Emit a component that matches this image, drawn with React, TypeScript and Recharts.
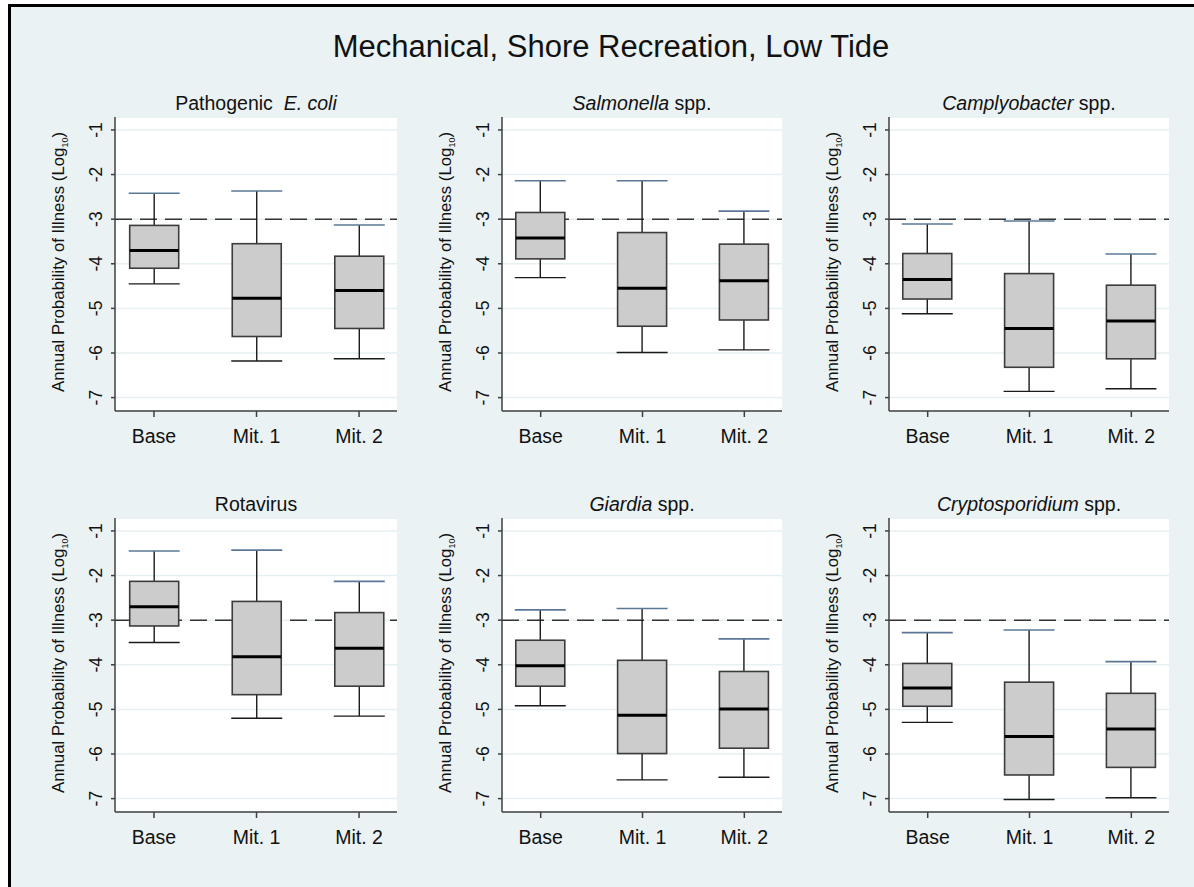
import React from "react";
import { ComposedChart, Bar, XAxis, YAxis, CartesianGrid } from "recharts";

const CATEGORIES = ["Base", "Mit. 1", "Mit. 2"];
const Y_TICKS = [-7, -6, -5, -4, -3, -2, -1];
const THRESHOLD = -3;

// each row: [lower adjacent, q1, median, q3, upper adjacent], log10 annual risk
const ECOLI = [
  [-4.45, -4.1, -3.7, -3.14, -2.42],
  [-6.18, -5.63, -4.77, -3.55, -2.37],
  [-6.13, -5.45, -4.6, -3.83, -3.13],
];
const SALMONELLA = [
  [-4.31, -3.89, -3.42, -2.85, -2.14],
  [-5.99, -5.4, -4.55, -3.3, -2.14],
  [-5.93, -5.26, -4.38, -3.56, -2.82],
];
const CAMPYLOBACTER = [
  [-5.12, -4.79, -4.35, -3.77, -3.11],
  [-6.86, -6.32, -5.45, -4.22, -3.04],
  [-6.8, -6.13, -5.28, -4.48, -3.78],
];
const ROTAVIRUS = [
  [-3.5, -3.13, -2.7, -2.13, -1.45],
  [-5.2, -4.67, -3.82, -2.58, -1.43],
  [-5.15, -4.48, -3.63, -2.83, -2.13],
];
const GIARDIA = [
  [-4.92, -4.48, -4.02, -3.45, -2.77],
  [-6.58, -5.99, -5.13, -3.9, -2.74],
  [-6.52, -5.87, -4.99, -4.15, -3.42],
];
const CRYPTO = [
  [-5.29, -4.93, -4.52, -3.97, -3.28],
  [-7.02, -6.47, -5.61, -4.39, -3.22],
  [-6.98, -6.3, -5.44, -4.64, -3.93],
];

const FONT = "'Liberation Sans', Arial, sans-serif";
const INK = "#111111";
const PLOT_LEFT = [115, 502, 889];
const PLOT_WIDTH = [282, 280, 280];
const PLOT_TOP = [117, 518];
const PLOT_HEIGHT = 294;

const YTick = (props: any) => {
  const { x, y, payload } = props;
  const cx = x - 13;
  return (
    <text
      x={cx}
      y={y}
      transform={`rotate(-90 ${cx} ${y})`}
      textAnchor="middle"
      dominantBaseline="central"
      fontSize={17.5}
      fontFamily={FONT}
      fill={INK}
    >
      {payload.value}
    </text>
  );
};

const BoxShape = (props: any) => {
  const { x, y, width, height, payload } = props;
  const [lo, q1, med, q3, hi] = payload.stats;
  const top = Math.min(y, y + height);
  const bottom = Math.max(y, y + height);
  // bar spans lo..hi, place the inner stats on the same linear scale
  const py = (v: number) => top + ((hi - v) / (hi - lo)) * (bottom - top);
  const cx = x + width / 2;
  return (
    <g>
      <line x1={cx} x2={cx} y1={py(hi)} y2={py(lo)} stroke="#1a1a1a" strokeWidth={1.4} />
      <rect
        x={x}
        y={py(q3)}
        width={width}
        height={py(q1) - py(q3)}
        fill="#cccccc"
        stroke="#3c3c3c"
        strokeWidth={1.6}
      />
      <line x1={x} x2={x + width} y1={py(med)} y2={py(med)} stroke="#000" strokeWidth={3} />
      <line x1={x - 1} x2={x + width + 1} y1={py(hi)} y2={py(hi)} stroke="#5a7896" strokeWidth={1.6} />
      <line x1={x - 1} x2={x + width + 1} y1={py(lo)} y2={py(lo)} stroke="#1a1a1a" strokeWidth={1.4} />
    </g>
  );
};

function Panel({ title, stats, col, row }: { title: React.ReactNode; stats: number[][]; col: number; row: number }) {
  const data = CATEGORIES.map((name, i) => ({
    pos: i + 1,
    name,
    range: [stats[i][0], stats[i][4]],
    stats: stats[i],
  }));
  const plotLeft = PLOT_LEFT[col];
  const plotTop = PLOT_TOP[row];
  const w = PLOT_WIDTH[col];
  return (
    <>
      <div
        style={{
          position: "absolute",
          left: plotLeft - 20,
          width: w + 40,
          top: plotTop - 23,
          textAlign: "center",
          fontFamily: FONT,
          fontSize: 19.5,
          lineHeight: "19px",
          color: INK,
          whiteSpace: "pre",
        }}
      >
        {title}
      </div>
      <div
        style={{
          position: "absolute",
          left: plotLeft - 53,
          top: plotTop + 145,
          transform: "translate(-50%, -50%) rotate(-90deg)",
          fontFamily: FONT,
          fontSize: 16.8,
          lineHeight: "17px",
          color: INK,
          whiteSpace: "nowrap",
        }}
      >
        Annual Probability of Illness (Log<sub style={{ fontSize: 9 }}>10</sub>)
      </div>
      <div style={{ position: "absolute", left: plotLeft - 70, top: plotTop - 10 }}>
        <ComposedChart
          width={w + 80}
          height={PLOT_HEIGHT + 60}
          data={data}
          margin={{ top: 10, right: 10, bottom: 0, left: 0 }}
        >
          <CartesianGrid vertical={false} fill="#ffffff" stroke="#e6eff1" strokeWidth={1.5} />
          <CartesianGrid
            vertical={false}
            horizontalValues={[THRESHOLD]}
            stroke="#333333"
            strokeWidth={1.5}
            strokeDasharray="17 8"
          />
          <XAxis
            dataKey="pos"
            type="number"
            domain={[0.62, 3.37]}
            ticks={[1, 2, 3]}
            allowDataOverflow
            interval={0}
            height={50}
            tickFormatter={(v: number) => CATEGORIES[v - 1]}
            tick={{ fontSize: 19.5, fontFamily: FONT, fill: INK }}
            tickSize={6}
            tickMargin={12}
            axisLine={{ stroke: "#404040", strokeWidth: 1.5 }}
            tickLine={{ stroke: "#404040", strokeWidth: 1.5 }}
          />
          <YAxis
            type="number"
            domain={[-7.3, -0.71]}
            ticks={Y_TICKS}
            allowDataOverflow
            interval={0}
            width={70}
            tick={<YTick />}
            tickSize={4}
            axisLine={{ stroke: "#404040", strokeWidth: 1.5 }}
            tickLine={{ stroke: "#404040", strokeWidth: 1.5 }}
          />
          <Bar dataKey="range" barSize={49} shape={<BoxShape />} isAnimationActive={false} />
        </ComposedChart>
      </div>
    </>
  );
}

export default function App() {
  return (
    <div
      style={{
        position: "absolute",
        left: 8,
        top: 4,
        width: 1186,
        height: 883,
        boxSizing: "border-box",
        borderLeft: "3px solid #000",
        borderTop: "3px solid #000",
        background: "#eaf2f3",
        overflow: "hidden",
      }}
    >
      <div style={{ position: "absolute", left: -11, top: -7, width: 1194, height: 887 }}>
        <div
          style={{
            position: "absolute",
            left: 311,
            width: 600,
            top: 31,
            textAlign: "center",
            fontFamily: FONT,
            fontSize: 31,
            lineHeight: "31px",
            color: INK,
          }}
        >
          Mechanical, Shore Recreation, Low Tide
        </div>
        <Panel title={<>Pathogenic  <i>E. coli</i></>} stats={ECOLI} col={0} row={0} />
        <Panel title={<><i>Salmonella</i> spp.</>} stats={SALMONELLA} col={1} row={0} />
        <Panel title={<><i>Camplyobacter</i> spp.</>} stats={CAMPYLOBACTER} col={2} row={0} />
        <Panel title="Rotavirus" stats={ROTAVIRUS} col={0} row={1} />
        <Panel title={<><i>Giardia</i> spp.</>} stats={GIARDIA} col={1} row={1} />
        <Panel title={<><i>Cryptosporidium</i> spp.</>} stats={CRYPTO} col={2} row={1} />
      </div>
    </div>
  );
}
